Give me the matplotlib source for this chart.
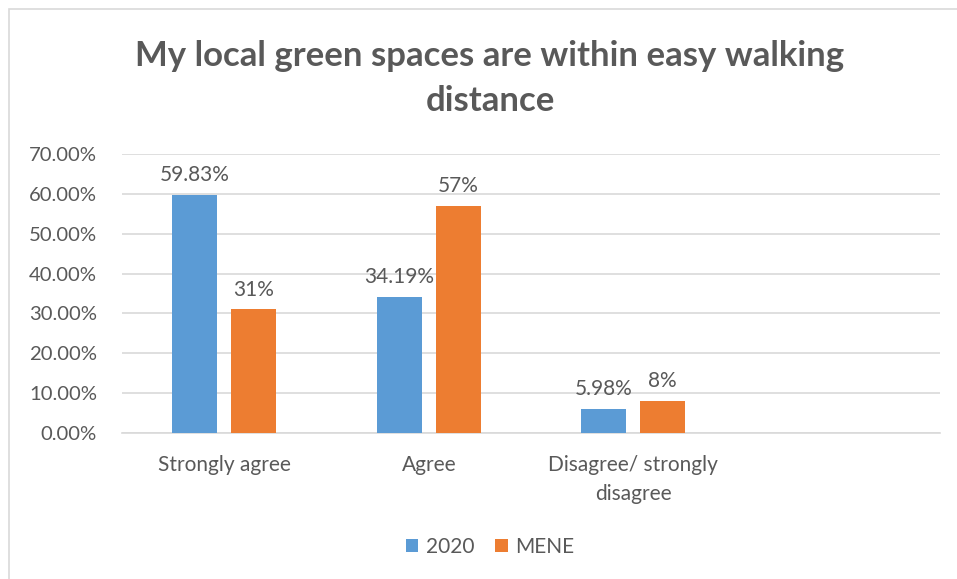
import matplotlib
matplotlib.use("Agg")
import matplotlib.pyplot as plt
from matplotlib.patches import Rectangle
import numpy as np

categories = ["Strongly agree", "Agree", "Disagree/ strongly\ndisagree", ""]
series_names = ["2020", "MENE"]
values_2020 = [59.83, 34.19, 5.98]
values_mene = [31, 57, 8]
labels_2020 = ["59.83%", "34.19%", "5.98%"]
labels_mene = ["31%", "57%", "8%"]
yticks = [0, 10, 20, 30, 40, 50, 60, 70]
title_lines = ["My local green spaces are within easy walking", "distance"]

plt.rcParams["font.family"] = ["Lato", "DejaVu Sans"]
TEXT = "#595959"
BLUE = "#5B9BD5"
ORANGE = "#ED7D31"

fig = plt.figure(figsize=(9.57, 5.79), dpi=100)
W, H = 957, 579
ax = fig.add_axes([122 / W, 1 - 433 / H, (940 - 122) / W, (433 - 154) / H])

# chart frame
fig.patches.append(Rectangle((9 / W, -0.01), 1.0, 1 - 9 / H + 0.01, transform=fig.transFigure,
                             fill=False, edgecolor="#d9d9d9", linewidth=1.2))

x = np.arange(len(categories))
bw = 0.22
off = 0.144
b1 = ax.bar(x[:3] - off, values_2020, bw, color=BLUE, label=series_names[0], zorder=3)
b2 = ax.bar(x[:3] + off, values_mene, bw, color=ORANGE, label=series_names[1], zorder=3)
ax.bar_label(b1, labels=labels_2020, padding=7, fontsize=15, color=TEXT)
ax.bar_label(b2, labels=labels_mene, padding=7, fontsize=15, color=TEXT)

ax.set_xlim(-0.5, len(categories) - 0.5)
ax.set_ylim(0, 70)
ax.set_yticks(yticks)
ax.set_yticklabels([f"{v:.2f}%" for v in yticks], fontsize=14.6, color=TEXT)
ax.set_xticks(x)
ax.set_xticklabels(categories, fontsize=15, color=TEXT, linespacing=1.55)
ax.tick_params(axis="x", length=0, pad=16)
ax.tick_params(axis="y", length=0, pad=18)
ax.grid(axis="y", color="#d9d9d9", linewidth=1.2, zorder=0)
for s in ["top", "right", "left"]:
    ax.spines[s].set_visible(False)
ax.spines["bottom"].set_color("#d9d9d9")
ax.spines["bottom"].set_linewidth(1.2)

for i, line in enumerate(title_lines):
    fig.text(490 / W, 1 - (56 + 45 * i) / H, line, ha="center", va="center",
             fontsize=25, fontweight="bold", color=TEXT)

leg = fig.legend(handles=[b1, b2], loc="center", bbox_to_anchor=(490 / W, 1 - 547 / H),
                 ncol=2, frameon=False, fontsize=15, handlelength=0.6, handleheight=0.6,
                 handletextpad=0.35, columnspacing=1.0)
for t in leg.get_texts():
    t.set_color(TEXT)

fig.savefig("out.png", dpi=100, facecolor="white")
